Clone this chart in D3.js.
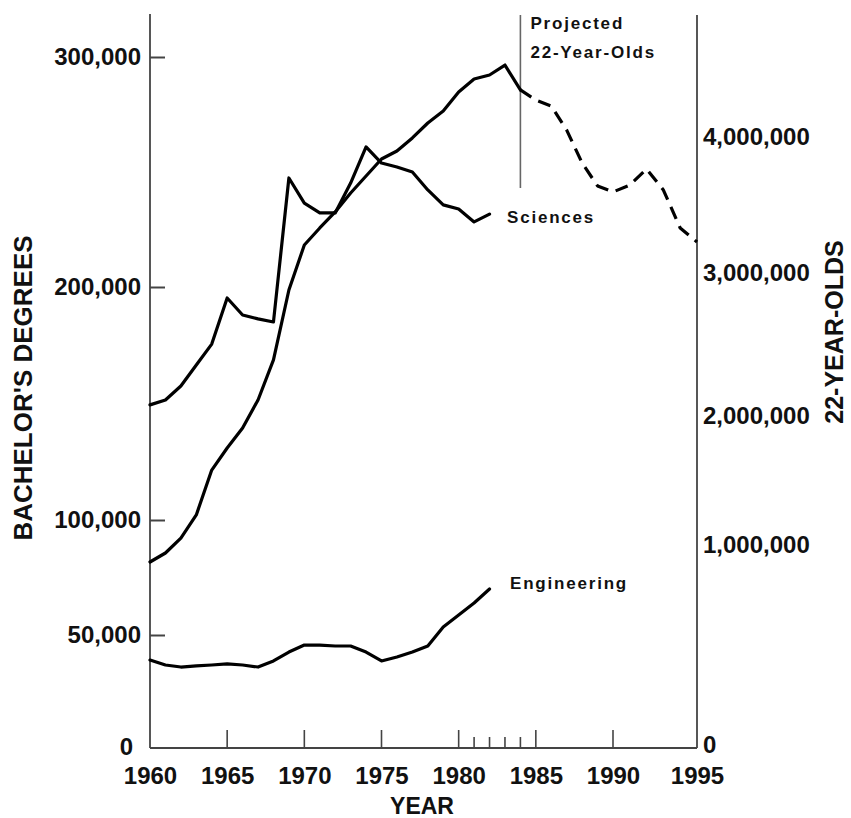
<!DOCTYPE html>
<html>
<head>
<meta charset="utf-8">
<script src="https://cdn.jsdelivr.net/npm/d3@7"></script>
<style>
  html, body { margin: 0; padding: 0; background: #fff; }
  svg { display: block; }
  text { font-family: "Liberation Sans", Arial, Helvetica, sans-serif; fill: #111; }
</style>
</head>
<body>
<svg id="chart" width="851" height="818"></svg>
<script>
// ---------------- data ----------------
const sciYears = [1960,1961,1962,1963,1964,1965,1966,1967,1968,1969,1970,1971,1972,1973,1974,1975,1976,1977,1978,1979,1980,1981,1982];
const sciences = [149400,151500,157500,166500,175500,195300,188000,186300,185000,247400,236500,232200,232200,245200,260900,253900,252200,250000,242200,235700,233900,228300,231700];
const engineering = [38800,36600,35700,36200,36600,37100,36600,35700,38400,42400,45500,45500,45100,45100,42400,38400,40200,42400,45100,53500,58700,63900,70000];

const popYears = [1960,1961,1962,1963,1964,1965,1966,1967,1968,1969,1970,1971,1972,1973,1974,1975,1976,1977,1978,1979,1980,1981,1982,1983,1984,1985,1986,1987,1988,1989,1990,1991,1992,1993,1994,1995];
const pop22 = [915000,960000,1054000,1233000,1581000,1752000,1907000,2112000,2392000,2881000,3206000,3331000,3449000,3588000,3713000,3838000,3897000,3993000,4103000,4191000,4331000,4426000,4456000,4529000,4346000,4272000,4228000,4051000,3809000,3640000,3596000,3647000,3765000,3610000,3331000,3228000];
const projectionStart = 1984;

const leftTicks = [0, 50000, 100000, 200000, 300000];
const rightTicks = [0, 1000000, 2000000, 3000000, 4000000];
const xLabels = [1960,1965,1970,1975,1980,1985,1990,1995];
const xMajorTicks = [1965,1970,1975,1980,1985,1990];
const xMinorTicks = [1981,1982,1983,1984];

// ---------------- scales ----------------
const x = d3.scaleLinear().domain([1960, 1990, 1995]).range([150, 613, 697]);
const yL = d3.scaleLinear().domain([0, 50000, 100000, 200000, 300000]).range([747, 635, 520, 287, 57]);
const yR = d3.scaleLinear().domain([0, 1000000, 2000000, 3000000, 4000000]).range([745, 545, 416, 273, 137]);

const svg = d3.select("#chart");
const axisColor = "#444";

// axis frame lines
const x0 = x(1960), x1 = x(1995), yBase = 748;
svg.append("line").attr("x1", x0).attr("x2", x0).attr("y1", 14).attr("y2", yBase)
  .attr("stroke", axisColor).attr("stroke-width", 1.8);
svg.append("line").attr("x1", x1).attr("x2", x1).attr("y1", 15).attr("y2", yBase)
  .attr("stroke", axisColor).attr("stroke-width", 1.8);
svg.append("line").attr("x1", x0).attr("x2", x1).attr("y1", yBase).attr("y2", yBase)
  .attr("stroke", axisColor).attr("stroke-width", 2);

// left axis
const gL = svg.append("g").attr("transform", `translate(${x0},0)`)
  .call(d3.axisLeft(yL).tickValues(leftTicks).tickFormat(d3.format(",")).tickSizeInner(-15).tickSizeOuter(0).tickPadding(9));
gL.select(".domain").remove();
gL.selectAll(".tick line").attr("stroke", axisColor).attr("stroke-width", 2);
gL.selectAll(".tick line").filter(d => d === 0).remove();
gL.selectAll(".tick text").attr("font-size", 24).attr("font-weight", "bold").attr("fill", "#111")
  .attr("font-family", "Liberation Sans, Arial, sans-serif");
gL.selectAll(".tick text").filter(d => d === 0).attr("x", -17);

// right axis
const gR = svg.append("g").attr("transform", `translate(${x1},0)`)
  .call(d3.axisRight(yR).tickValues(rightTicks).tickFormat(d3.format(",")).tickSize(0).tickPadding(6));
gR.select(".domain").remove();
gR.selectAll(".tick text").attr("font-size", 24).attr("font-weight", "bold").attr("fill", "#111")
  .attr("font-family", "Liberation Sans, Arial, sans-serif");

// bottom axis labels
const gB = svg.append("g").attr("transform", `translate(0,${yBase})`)
  .call(d3.axisBottom(x).tickValues(xLabels).tickFormat(d3.format("d")).tickSize(0).tickPadding(19));
gB.select(".domain").remove();
gB.selectAll(".tick text").attr("font-size", 24).attr("font-weight", "bold").attr("fill", "#111")
  .attr("font-family", "Liberation Sans, Arial, sans-serif");

// bottom ticks (pointing up)
svg.append("g").selectAll("line").data(xMajorTicks).join("line")
  .attr("x1", d => x(d)).attr("x2", d => x(d)).attr("y1", yBase).attr("y2", yBase - 18)
  .attr("stroke", axisColor).attr("stroke-width", 1.6);
svg.append("g").selectAll("line").data(xMinorTicks).join("line")
  .attr("x1", d => x(d)).attr("x2", d => x(d)).attr("y1", yBase).attr("y2", yBase - 11)
  .attr("stroke", axisColor).attr("stroke-width", 1.6);

// projection divider
svg.append("line").attr("x1", x(projectionStart)).attr("x2", x(projectionStart))
  .attr("y1", 15).attr("y2", 188).attr("stroke", "#666").attr("stroke-width", 1.6);

// lines
const lineL = d3.line().x(d => x(d[0])).y(d => yL(d[1]));
const lineR = d3.line().x(d => x(d[0])).y(d => yR(d[1]));

const sciPts = sciYears.map((yr, i) => [yr, sciences[i]]);
const engPts = sciYears.map((yr, i) => [yr, engineering[i]]);
const popPts = popYears.map((yr, i) => [yr, pop22[i]]);
const popActual = popPts.filter(d => d[0] <= projectionStart);
const popProj = popPts.filter(d => d[0] >= projectionStart);

const lineStyle = sel => sel.attr("fill", "none").attr("stroke", "#000").attr("stroke-width", 3.2)
  .attr("stroke-linejoin", "round").attr("stroke-linecap", "round");

svg.append("path").datum(sciPts).attr("d", lineL).call(lineStyle);
svg.append("path").datum(engPts).attr("d", lineL).call(lineStyle);
svg.append("path").datum(popActual).attr("d", lineR).call(lineStyle);
svg.append("path").datum(popProj).attr("d", lineR).call(lineStyle)
  .attr("stroke-dasharray", "13,8").attr("stroke-linecap", "butt");

// annotations
const ann = (txt, xx, yy) => svg.append("text").attr("x", xx).attr("y", yy)
  .attr("dy", "0.35em").attr("font-size", 17).attr("font-weight", "bold")
  .attr("letter-spacing", "1.8px").attr("fill", "#222").text(txt);
ann("Projected", x(projectionStart) + 10, 23);
ann("22-Year-Olds", x(projectionStart) + 10, 52);
ann("Sciences", 507, 217);
ann("Engineering", 510, 583);

// axis titles
svg.append("text").attr("transform", "translate(23,388) rotate(-90)")
  .attr("text-anchor", "middle").attr("dy", "0.35em")
  .attr("font-size", 26).attr("font-weight", "bold").text("BACHELOR'S DEGREES");
svg.append("text").attr("transform", "translate(834,332) rotate(-90)")
  .attr("text-anchor", "middle").attr("dy", "0.35em")
  .attr("font-size", 25).attr("font-weight", "bold").text("22-YEAR-OLDS");
svg.append("text").attr("x", 422).attr("y", 806)
  .attr("text-anchor", "middle").attr("dy", "0.35em")
  .attr("font-size", 23).attr("font-weight", "bold").text("YEAR");
</script>
</body>
</html>
